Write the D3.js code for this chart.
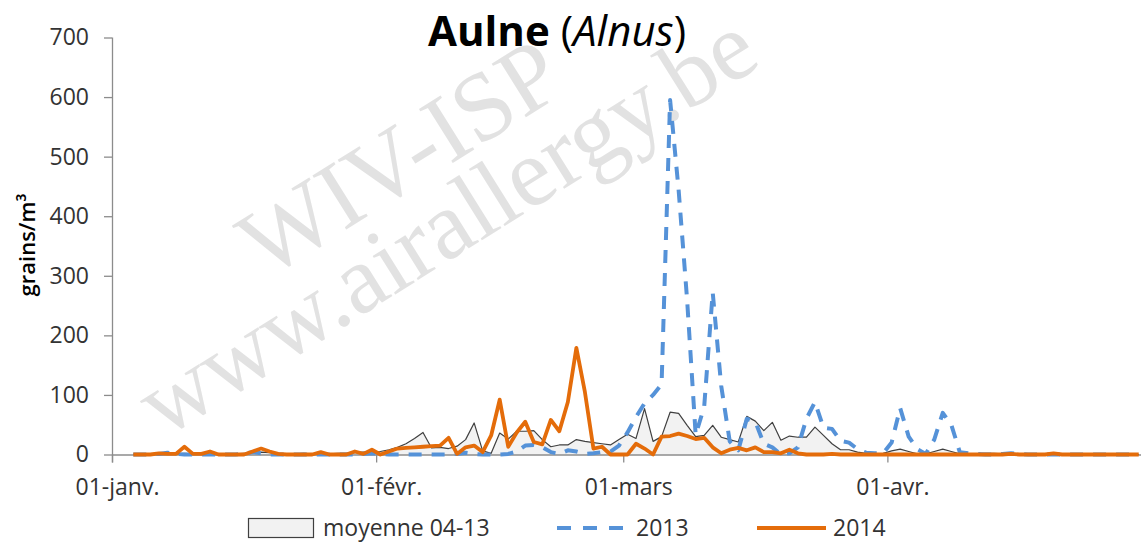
<!DOCTYPE html>
<html>
<head>
<meta charset="utf-8">
<script src="https://cdn.jsdelivr.net/npm/d3@7"></script>
<style>
  html, body { margin: 0; padding: 0; background: #fff; }
  svg { display: block; font-family: "Open Sans", sans-serif; }
</style>
</head>
<body>
<div id="chart"></div>
<script>
// --- data (daily values, first value = 03 Jan) ---
var firstDay = '2012-01-03';
var axisStart = '2012-01-01';
var axisEnd = '2012-05-01';
var monthTicks = ['2012-01-01', '2012-02-01', '2012-03-01', '2012-04-01'];
var monthLabels = ['01-janv.', '01-févr.', '01-mars', '01-avr.'];
var yTicks = [0, 100, 200, 300, 400, 500, 600, 700];
var seriesNames = ['moyenne 04-13', '2013', '2014'];

var mean0413 = [
  0, 0, 1, 2, 2, 1, 2, 1, 1, 2,
  1, 1, 1, 2, 3, 4, 3, 2, 1, 1,
  2, 1, 2, 1, 2, 2, 3, 4, 4, 5,
  8, 12, 18, 27, 37, 11, 12, 10, 14, 25,
  53, 6, 2, 36, 26, 39, 39, 40, 25, 13,
  16, 16, 25, 22, 20, 18, 16, 25, 34, 27,
  77, 22, 30, 71, 69, 49, 30, 32, 49, 29,
  25, 21, 64, 56, 40, 54, 24, 31, 29, 29,
  46, 32, 18, 8, 8, 4, 2, 1, 2, 6,
  9, 5, 1, 1, 5, 9, 5, 1, 1, 1,
  2, 2, 1, 1, 0, 1, 0, 0, 0, 0,
  0, 0, 0, 0, 0, 0, 0, 0, 0
];
var pollen2013 = [
  0, 0, 0, 1, 3, 1, 0, 0, 0, 0,
  0, 0, 0, 1, 4, 2, 0, 0, 0, 0,
  0, 0, 0, 0, 0, 0, 0, 1, 2, 1,
  0, 0, 0, 0, 0, 0, 0, 0, 1, 3,
  1, 0, 0, 0, 1, 5, 15, 16, 12, 4,
  1, 7, 5, 1, 2, 4, 5, 15, 37, 63,
  86, 100, 118, 595, 444, 259, 33, 80, 272, 115,
  22, 7, 60, 55, 18, 12, 0, 2, 12, 60,
  88, 45, 43, 23, 20, 9, 3, 2, 2, 20,
  78, 30, 9, 1, 25, 70, 50, 4, 2, 1,
  0, 0, 1, 2, 1, 0, 0, 0, 0, 0,
  0, 0, 0, 0, 0, 0, 0, 0, 0
];
var pollen2014 = [
  0, 0, 0, 2, 1, 1, 13, 1, 1, 5,
  0, 0, 0, 0, 5, 10, 5, 1, 0, 0,
  0, 0, 4, 0, 0, 0, 5, 1, 8, 0,
  5, 10, 11, 12, 13, 14, 15, 28, 1, 12,
  15, 4, 32, 92, 13, 37, 55, 21, 17, 58,
  39, 88, 179, 105, 10, 13, 0, 0, 0, 18,
  10, 0, 30, 31, 35, 31, 26, 28, 12, 2,
  8, 11, 7, 12, 4, 4, 2, 8, 2, 0,
  0, 0, 1, 0, 0, 0, 0, 0, 0, 0,
  0, 0, 0, 0, 0, 0, 0, 0, 0, 0,
  0, 0, 0, 1, 0, 0, 0, 0, 2, 0,
  0, 0, 0, 0, 0, 0, 0, 0, 0
];

(function () {
  var COLOR_MEAN_FILL = '#f2f2f2';
  var COLOR_MEAN_LINE = '#404040';
  var COLOR_2013 = '#5592d8';
  var COLOR_2014 = '#e46c0a';
  var COLOR_AXIS = '#8c8c8c';
  var COLOR_TEXT = '#333';

  var W = 1141, H = 544;
  var mLeft = 112, mRight = 1143, mTop = 37.5, mBottom = 454.5;

  var parse = d3.utcParse('%Y-%m-%d');
  var start = parse(firstDay);
  var dates = mean0413.map(function (v, i) { return d3.utcDay.offset(start, i); });

  var x = d3.scaleUtc()
    .domain([parse(axisStart), parse(axisEnd)])
    .range([mLeft, mRight]);
  var y = d3.scaleLinear()
    .domain([0, 700])
    .range([mBottom, mTop]);

  function px(d, i) { return x(d3.utcHour.offset(dates[i], 12)); }

  var svg = d3.select('#chart').append('svg')
    .attr('width', W)
    .attr('height', H)
    .attr('viewBox', '0 0 ' + W + ' ' + H);

  // watermark
  var wm = svg.append('g')
    .attr('transform', 'translate(425,192) rotate(-32)')
    .attr('font-family', '"Liberation Serif", serif')
    .attr('font-size', 97)
    .attr('fill', '#e2e2e2')
    .attr('text-anchor', 'middle');
  wm.append('text').attr('x', -3).attr('y', -44).attr('dy', '0.35em').text('WIV-ISP');
  wm.append('text').attr('x', 1).attr('y', 37).attr('dy', '0.35em').text('www.airallergy.be');

  // mean area
  var area = d3.area()
    .x(px)
    .y0(y(0))
    .y1(function (d) { return y(d); });
  svg.append('path')
    .datum(mean0413)
    .attr('d', area)
    .attr('fill', COLOR_MEAN_FILL);

  // axes
  var yAxis = d3.axisLeft(y)
    .tickValues(yTicks)
    .tickSize(8)
    .tickPadding(15)
    .tickFormat(d3.format('d'));
  var gy = svg.append('g')
    .attr('transform', 'translate(' + mLeft + ',0)')
    .call(yAxis);

  var xAxis = d3.axisBottom(x)
    .tickValues(monthTicks.map(parse))
    .tickSize(8)
    .tickPadding(14)
    .tickFormat(function (d, i) { return monthLabels[i]; });
  var gx = svg.append('g')
    .attr('transform', 'translate(0,' + mBottom + ')')
    .call(xAxis);

  [gx, gy].forEach(function (g) {
    g.select('.domain').attr('stroke', COLOR_AXIS).attr('stroke-width', 1.3);
    g.selectAll('.tick line').attr('stroke', COLOR_AXIS).attr('stroke-width', 1.3);
    g.selectAll('.tick text')
      .attr('fill', COLOR_TEXT)
      .attr('font-family', '"Open Sans", sans-serif')
      .attr('font-size', 23);
  });
  gx.select('.domain').attr('d', 'M' + mLeft + ',0.5H' + mRight);
  gx.selectAll('.tick text').attr('dx', 5).attr('dy', '0.8em');
  gy.select('.domain').attr('d', 'M0.5,' + mTop + 'V' + (mBottom + 8));

  // mean outline
  var line = d3.line()
    .x(px)
    .y(function (d) { return y(d); });
  svg.append('path')
    .datum(mean0413)
    .attr('d', line)
    .attr('fill', 'none')
    .attr('stroke', COLOR_MEAN_LINE)
    .attr('stroke-width', 1.2)
    .attr('stroke-linejoin', 'round');

  // 2013
  svg.append('path')
    .datum(pollen2013)
    .attr('d', line)
    .attr('fill', 'none')
    .attr('stroke', COLOR_2013)
    .attr('stroke-width', 4)
    .attr('stroke-dasharray', '13,10')
    .attr('stroke-linejoin', 'round');

  // 2014
  svg.append('path')
    .datum(pollen2014)
    .attr('d', line)
    .attr('fill', 'none')
    .attr('stroke', COLOR_2014)
    .attr('stroke-width', 3.8)
    .attr('stroke-linejoin', 'round');

  // title
  var title = svg.append('text')
    .attr('x', 557)
    .attr('y', 46)
    .attr('text-anchor', 'middle')
    .attr('font-size', 42)
    .attr('fill', '#000');
  title.append('tspan').attr('font-weight', 700).text('Aulne ');
  title.append('tspan').text('(');
  title.append('tspan').attr('font-style', 'italic').text('Alnus');
  title.append('tspan').text(')');

  // y axis title
  svg.append('text')
    .attr('transform', 'translate(35,245) rotate(-90)')
    .attr('text-anchor', 'middle')
    .attr('font-size', 22)
    .attr('font-weight', 600)
    .attr('fill', '#000')
    .text('grains/m³');

  // legend
  var legend = svg.append('g').attr('transform', 'translate(0,528)');
  legend.append('rect')
    .attr('x', 248.5).attr('y', -9.5)
    .attr('width', 65).attr('height', 19)
    .attr('fill', COLOR_MEAN_FILL)
    .attr('stroke', COLOR_MEAN_LINE)
    .attr('stroke-width', 1.2);
  legend.append('line')
    .attr('x1', 557).attr('x2', 627)
    .attr('stroke', COLOR_2013).attr('stroke-width', 4)
    .attr('stroke-dasharray', '14,12');
  legend.append('line')
    .attr('x1', 757).attr('x2', 826)
    .attr('stroke', COLOR_2014).attr('stroke-width', 3.8);
  var legendX = [323, 636, 833];
  seriesNames.forEach(function (name, i) {
    legend.append('text')
      .attr('x', legendX[i])
      .attr('dy', '0.35em')
      .attr('font-size', 23)
      .attr('fill', COLOR_TEXT)
      .text(name);
  });
})();
</script>
</body>
</html>
